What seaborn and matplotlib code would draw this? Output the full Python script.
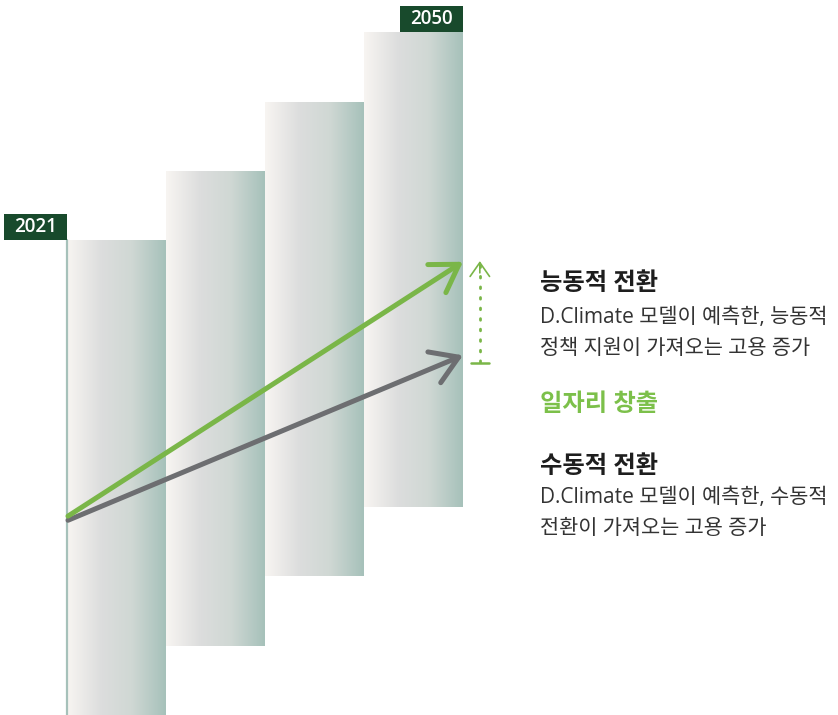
import numpy as np
import pandas as pd
import matplotlib
matplotlib.use("Agg")
import matplotlib.pyplot as plt
from matplotlib.colors import LinearSegmentedColormap
from matplotlib.patches import FancyArrowPatch, Rectangle
import seaborn as sns

# data: staircase of 4 periods, each bar the same height, raised one step each time
steps = [0, 1, 2, 3]
bar_height = 6.85
year_labels = ["2021", "", "", "2050"]
start_level = 2.84       # job level at 2021 (arrow start)
active_level = 6.54      # 능동적 전환 end
passive_level = 5.19     # 수동적 전환 end

sns.set_theme(style="white")
plt.rcParams['font.family'] = ['Open Sans', 'Noto Sans CJK KR', 'DejaVu Sans']

W, H = 838, 715
fig = plt.figure(figsize=(W / 100, H / 100), dpi=100)
ax = fig.add_axes([0, 0, 1, 1])

df = pd.DataFrame({"step": steps, "top": [s + bar_height for s in steps]})
sns.barplot(data=df, x="step", y="top", width=1.0, color="#d8dcda", ax=ax,
            edgecolor="none", linewidth=0)

cmap = LinearSegmentedColormap.from_list(
    "bar", [(0, "#f8f5f2"), (0.35, "#dcdddd"), (0.65, "#d0d8d4"), (1, "#a6c1ba")])
grad = np.linspace(0, 1, 256).reshape(1, -1)
for patch, s in zip(ax.patches, steps):
    patch.set_y(s)
    patch.set_height(bar_height)
    patch.set_facecolor("none")
    x0 = patch.get_x()
    x1 = x0 + patch.get_width()
    im = ax.imshow(grad, extent=[x0, x1, s, s + bar_height], aspect="auto",
                   cmap=cmap, zorder=1)
    im.set_clip_path(patch)

# vertical axis line at the left of the first bar
x_left = ax.patches[0].get_x()
ax.plot([x_left, x_left], [0, bar_height], color="#a6c1ba", lw=1.6, zorder=3)

# year labels
box_w, box_h = 0.635, 0.385
for patch, s, lab in zip(ax.patches, steps, year_labels):
    if not lab:
        continue
    xr = patch.get_x() if s == 0 else patch.get_x() + patch.get_width()
    y0 = s + bar_height
    ax.add_patch(Rectangle((xr - box_w, y0), box_w, box_h, fc="#184a2c",
                           ec="none", zorder=4))
    ax.text(xr - box_w / 2, y0 + box_h / 2, lab, ha="center", va="center",
            fontsize=13.5, fontweight="semibold", color="white", zorder=5)

x_end = ax.patches[-1].get_x() + ax.patches[-1].get_width()
x_start = x_left + 0.01

green = "#7ab648"
gray = "#6d6e71"
arr_g = FancyArrowPatch((x_start, start_level + 0.03), (x_end, active_level),
                        arrowstyle="->,head_length=0.95,head_width=0.6",
                        mutation_scale=20, color=green, lw=3.6, zorder=6,
                        shrinkA=0, shrinkB=0)
arr_k = FancyArrowPatch((x_start, start_level - 0.03), (x_end, passive_level),
                        arrowstyle="->,head_length=0.95,head_width=0.6",
                        mutation_scale=20, color=gray, lw=3.6, zorder=5,
                        shrinkA=0, shrinkB=0)
ax.add_patch(arr_k)
ax.add_patch(arr_g)

# dotted gap indicator
x_dot = x_end + 0.17
ax.plot([x_dot, x_dot], [passive_level - 0.1, active_level], color=green,
        lw=2, ls=(0, (0.6, 3.2)), dash_capstyle="round", zorder=5)
ax.annotate("", xy=(x_dot, active_level + 0.05), xytext=(x_dot, active_level - 0.2),
            arrowprops=dict(arrowstyle="->,head_length=0.5,head_width=0.35",
                            color=green, lw=1.2, mutation_scale=20))
ax.plot([x_dot - 0.09, x_dot + 0.09], [passive_level - 0.11] * 2, color=green,
        lw=1.8, zorder=5)

x_min = x_left - 67 / 99
ax.set_xlim(x_min, x_min + W / 99)
ax.set_ylim(0, H / 69.3)
ax.axis("off")


def fx(px):
    return px / W


def fy(py):
    return 1 - py / H


dark = "#1e1e1e"
body = "#333333"
fig.text(fx(540), fy(284), "능동적 전환", fontsize=17.5, fontweight="bold",
         color=dark, va="center")
fig.text(fx(540), fy(317), "D.Climate 모델이 예측한, 능동적", fontsize=15,
         color=body, va="center")
fig.text(fx(540), fy(348), "정책 지원이 가져오는 고용 증가", fontsize=15,
         color=body, va="center")
fig.text(fx(540), fy(405), "일자리 창출", fontsize=17.5, fontweight="bold",
         color="#7cc04a", va="center")
fig.text(fx(540), fy(467), "수동적 전환", fontsize=17.5, fontweight="bold",
         color=dark, va="center")
fig.text(fx(540), fy(497), "D.Climate 모델이 예측한, 수동적", fontsize=15,
         color=body, va="center")
fig.text(fx(540), fy(529), "전환이 가져오는 고용 증가", fontsize=15,
         color=body, va="center")

fig.savefig("out.png", dpi=100, facecolor="white")
